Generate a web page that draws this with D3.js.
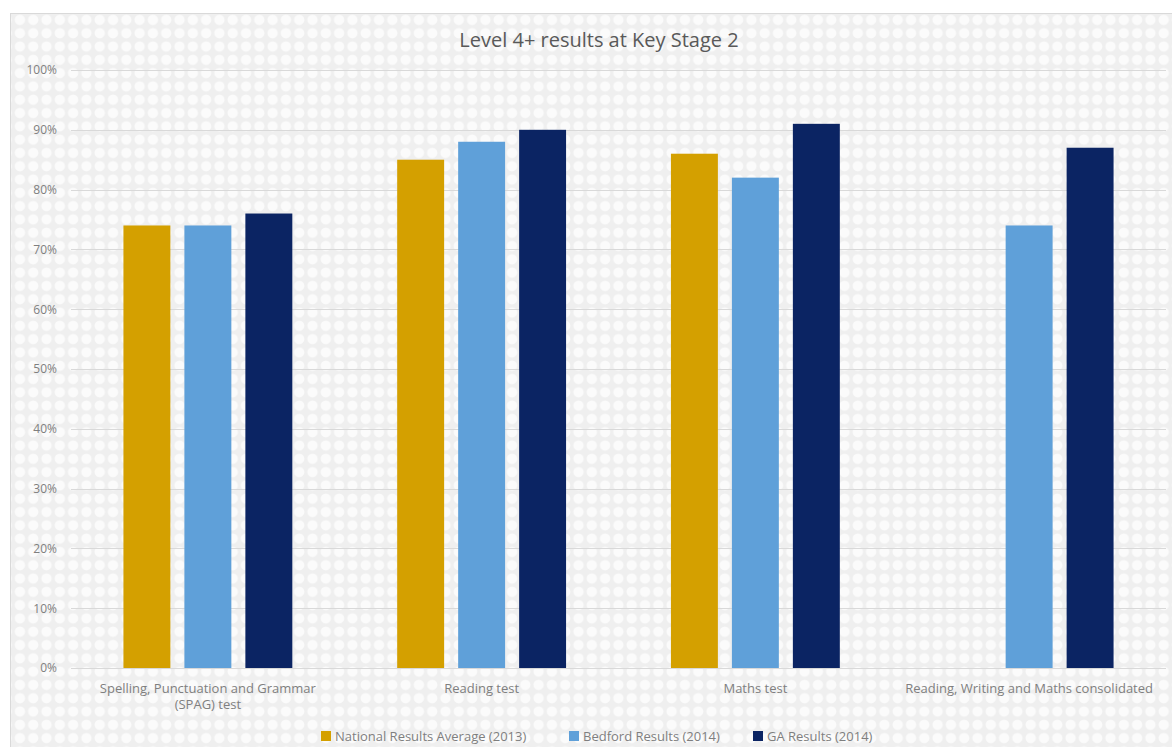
<!DOCTYPE html>
<html>
<head>
    <title>Level 4+ results at Key Stage 2</title>
    <script src="https://d3js.org/d3.v7.min.js"></script>
    <style>
        body { margin: 0; background: #fff; }
        text { font-family: "Open Sans", sans-serif; }
    </style>
</head>
<body>
    <svg id="chart"></svg>

    <script>
        // data
        var categories = ["Spelling, Punctuation and Grammar|(SPAG) test", "Reading test", "Maths test", "Reading, Writing and Maths consolidated"];
        var seriesNames = ["National Results Average (2013)", "Bedford Results (2014)", "GA Results (2014)"];
        var national = [74, 85, 86, null];
        var bedford = [74, 88, 82, 74];
        var ga = [76, 90, 91, 87];
        var yTicks = [0, 10, 20, 30, 40, 50, 60, 70, 80, 90, 100];

        var colors = ["#d4a000", "#5fa0d9", "#0b2463"];
        var seriesValues = [national, bedford, ga];

        var width = 1172, height = 747;
        var margin = {top: 70, right: 6, bottom: 79, left: 71};

        var svg = d3.select("#chart")
            .attr("width", width)
            .attr("height", height);

        // dotted background like the source
        var defs = svg.append("defs");
        var pat = defs.append("pattern")
            .attr("id", "dots")
            .attr("width", 13.3).attr("height", 13.3)
            .attr("patternUnits", "userSpaceOnUse");
        pat.append("rect").attr("width", 13.3).attr("height", 13.3).attr("fill", "#efefef");
        pat.append("circle").attr("cx", 6.6).attr("cy", 6.6).attr("r", 5.2).attr("fill", "#fbfbfb");

        svg.append("rect")
            .attr("x", 10.5).attr("y", 13.5)
            .attr("width", 1200).attr("height", 800)
            .attr("fill", "url(#dots)")
            .attr("stroke", "#d9d9d9");

        var x0 = d3.scaleBand()
            .domain(categories)
            .range([margin.left, width - margin.right]);

        var x1 = d3.scaleBand()
            .domain(d3.range(seriesNames.length))
            .range([0, x0.bandwidth()])
            .paddingInner(0.23)
            .paddingOuter(0.86);

        var y = d3.scaleLinear()
            .domain([0, 100])
            .range([height - margin.bottom, margin.top]);

        // gridlines
        svg.append("g")
            .selectAll("line")
            .data(yTicks)
            .enter().append("line")
            .attr("x1", margin.left)
            .attr("x2", width - margin.right)
            .attr("y1", function(d) { return Math.round(y(d)) + 0.5; })
            .attr("y2", function(d) { return Math.round(y(d)) + 0.5; })
            .attr("stroke", "#d9d9d9")
            .attr("stroke-width", 1);

        // y axis labels
        var yAxis = d3.axisLeft(y)
            .tickValues(yTicks)
            .tickSize(0)
            .tickPadding(14)
            .tickFormat(function(d) { return d + "%"; });

        var yg = svg.append("g")
            .attr("transform", "translate(" + margin.left + ",0)")
            .call(yAxis);
        yg.select(".domain").remove();
        yg.selectAll("text")
            .attr("fill", "#7f7f7f")
            .style("font-size", "12px");

        // bars
        var groups = svg.append("g").selectAll("g")
            .data(categories)
            .enter().append("g")
            .attr("transform", function(d) { return "translate(" + x0(d) + ",0)"; });

        groups.selectAll("rect")
            .data(function(d, i) {
                return seriesValues.map(function(s, k) { return {k: k, value: s[i]}; })
                    .filter(function(e) { return e.value != null; });
            })
            .enter().append("rect")
            .attr("x", function(d) { return x1(d.k); })
            .attr("width", x1.bandwidth())
            .attr("y", function(d) { return y(d.value); })
            .attr("height", function(d) { return y(0) - y(d.value); })
            .attr("fill", function(d) { return colors[d.k]; });

        // category labels
        var xg = svg.append("g");
        categories.forEach(function(c) {
            var lines = c.split("|");
            var t = xg.append("text")
                .attr("x", x0(c) + x0.bandwidth() / 2)
                .attr("y", y(0) + 25)
                .attr("text-anchor", "middle")
                .attr("fill", "#7f7f7f")
                .style("font-size", "13px");
            lines.forEach(function(l, i) {
                t.append("tspan")
                    .attr("x", x0(c) + x0.bandwidth() / 2)
                    .attr("dy", i == 0 ? 0 : 16)
                    .text(l);
            });
        });

        // title
        svg.append("text")
            .attr("x", 599)
            .attr("y", 47)
            .attr("text-anchor", "middle")
            .attr("fill", "#595959")
            .style("font-size", "20px")
            .text("Level 4+ results at Key Stage 2");

        // legend
        var legendX = [321, 569, 753];
        var legend = svg.append("g").selectAll("g")
            .data(seriesNames)
            .enter().append("g")
            .attr("transform", function(d, i) { return "translate(" + legendX[i] + ",731)"; });

        legend.append("rect")
            .attr("width", 10).attr("height", 10)
            .attr("fill", function(d, i) { return colors[i]; });

        legend.append("text")
            .attr("x", 14)
            .attr("y", 10)
            .attr("fill", "#7f7f7f")
            .style("font-size", "13px")
            .text(function(d) { return d; });
    </script>
</body>
</html>
